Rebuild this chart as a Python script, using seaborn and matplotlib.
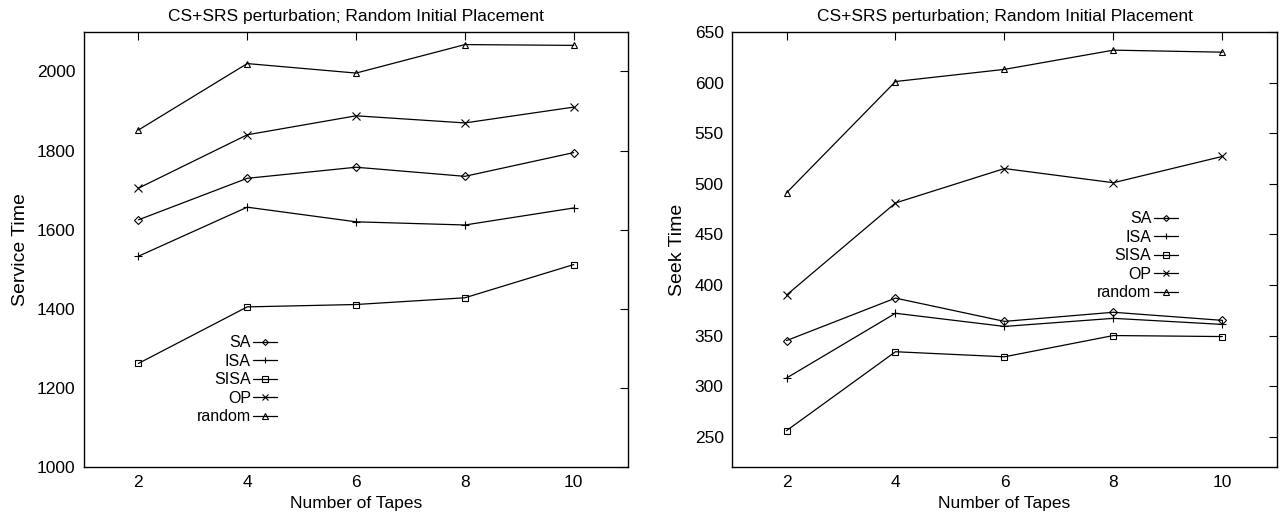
import matplotlib
matplotlib.use("Agg")
import matplotlib.pyplot as plt
from matplotlib.lines import Line2D
import seaborn as sns
import pandas as pd

tapes = [2, 4, 6, 8, 10]
series = ["SA", "ISA", "SISA", "OP", "random"]

service_SA = [1625, 1730, 1758, 1735, 1795]
service_ISA = [1533, 1657, 1620, 1612, 1655]
service_SISA = [1262, 1405, 1411, 1428, 1512]
service_OP = [1705, 1840, 1888, 1870, 1910]
service_random = [1852, 2020, 1996, 2068, 2066]

seek_SA = [345, 387, 364, 373, 365]
seek_ISA = [308, 372, 359, 367, 361]
seek_SISA = [256, 334, 329, 350, 349]
seek_OP = [390, 481, 515, 501, 527]
seek_random = [491, 601, 613, 632, 630]

title = "CS+SRS perturbation; Random Initial Placement"
xlabel = "Number of Tapes"
ylabel_left = "Service Time"
ylabel_right = "Seek Time"
yticks_left = [1000, 1200, 1400, 1600, 1800, 2000]
yticks_right = [250, 300, 350, 400, 450, 500, 550, 600, 650]

sns.set_style("white")
plt.rcParams['font.family'] = ['Liberation Sans', 'DejaVu Sans']
plt.rcParams.update({"text.color": "black", "axes.labelcolor": "black",
                     "xtick.color": "black", "ytick.color": "black"})

markers = {"SA": "D", "ISA": "+", "SISA": "s", "OP": "x", "random": "^"}
msize = {"SA": 4, "ISA": 6, "SISA": 5, "OP": 6, "random": 5}


def long_df(vals):
    rows = []
    for name, v in zip(series, vals):
        for t, y in zip(tapes, v):
            rows.append({"tapes": t, "value": y, "alg": name})
    return pd.DataFrame(rows)


df_left = long_df([service_SA, service_ISA, service_SISA, service_OP, service_random])
df_right = long_df([seek_SA, seek_ISA, seek_SISA, seek_OP, seek_random])

fig = plt.figure(figsize=(12.82, 5.15), dpi=100)
ax1 = fig.add_axes([0.0655, 0.093, 0.4245, 0.845])
ax2 = fig.add_axes([0.571, 0.093, 0.425, 0.845])


def draw(ax, df, ylim, yticks, ylabel, legend_anchor):
    for name in series:
        sub = df[df.alg == name]
        sns.lineplot(data=sub, x="tapes", y="value", ax=ax, color="black",
                     marker=markers[name], markersize=msize[name],
                     markerfacecolor="none", markeredgecolor="black",
                     markeredgewidth=0.8, linewidth=0.9, legend=False)
    ax.set_xlim(1, 11)
    ax.set_ylim(*ylim)
    ax.set_xticks(tapes)
    ax.set_yticks(yticks)
    ax.tick_params(direction="in", top=True, right=True, length=6,
                   labelsize=12.5, width=0.8, pad=6, colors="black")
    for s in ax.spines.values():
        s.set_color("black")
        s.set_linewidth(1.0)
    ax.set_xlabel(xlabel, fontsize=12.5, labelpad=4, color="black")
    ax.set_ylabel(ylabel, fontsize=14, labelpad=6, color="black")
    ax.set_title(title, fontsize=12.5, pad=8, color="black")
    handles = [Line2D([], [], color="black", marker=markers[n], markersize=msize[n] - 1,
                      markerfacecolor="none", markeredgewidth=0.8, linewidth=0.9)
               for n in series]
    leg = ax.legend(handles, series, markerfirst=False, frameon=False, loc="upper right",
                    bbox_to_anchor=legend_anchor, fontsize=11.5, handlelength=1.5,
                    handletextpad=0.15, labelspacing=0.22, borderpad=0, borderaxespad=0)
    for t in leg.get_texts():
        t.set_color("black")


draw(ax1, df_left, (1000, 2100), yticks_left, ylabel_left, (0.355, 0.303))
draw(ax2, df_right, (220, 650), yticks_right, ylabel_right, (0.818, 0.588))

fig.savefig("out.png", dpi=100)
